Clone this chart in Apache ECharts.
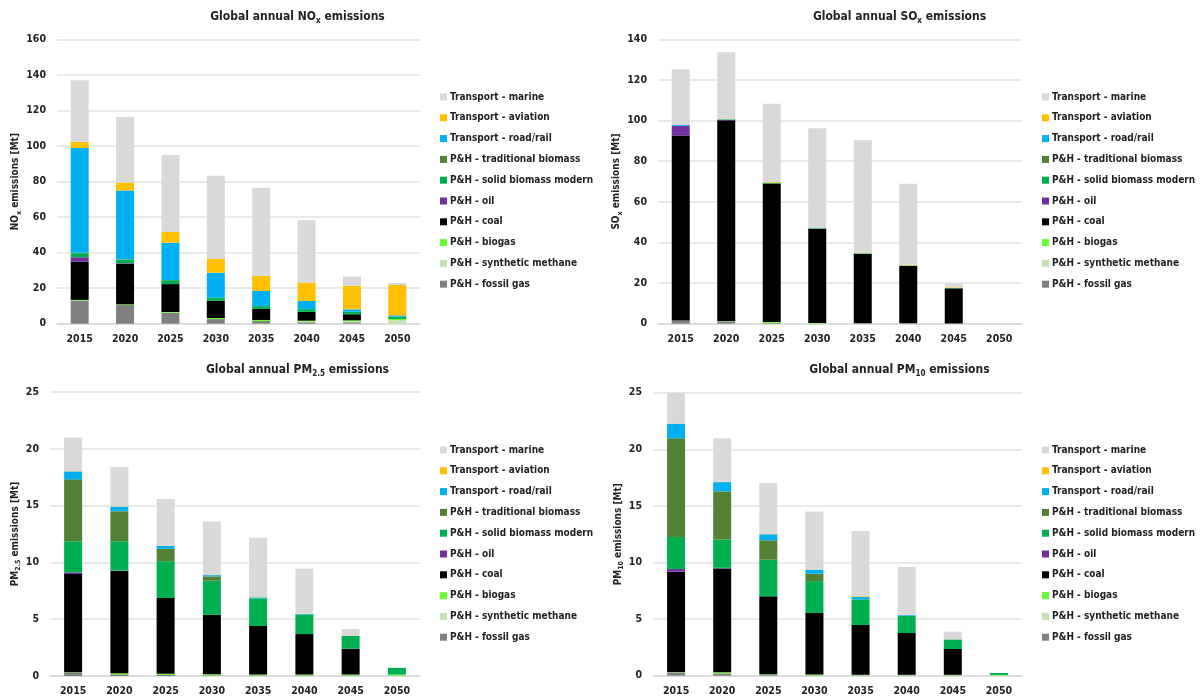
<!DOCTYPE html>
<html><head><meta charset="utf-8">
<script src="https://cdn.jsdelivr.net/npm/echarts@6/dist/echarts.min.js"></script>
<style>html,body{margin:0;padding:0;background:#fff}#c{width:1204px;height:699px}</style>
</head><body><div id="c"></div>
<script>
const years = ['2015','2020','2025','2030','2035','2040','2045','2050'];
const seriesNames = ['P&H - fossil gas','P&H - synthetic methane','P&H - biogas','P&H - coal','P&H - oil','P&H - solid biomass modern','P&H - traditional biomass','Transport - road/rail','Transport - aviation','Transport - marine'];
const seriesColors = ['#808080','#c6e0b4','#66ff33','#000000','#7030a0','#00b050','#548235','#00b0f0','#ffc000','#d9d9d9'];

// NOx [Mt]
const noxFossilGas = [13, 10.5, 6.2, 2.6, 1.5, 0.8, 0.8, 0];
const noxSynthMethane = [0, 0, 0, 0, 0, 0.3, 0.4, 2.0];
const noxBiogas = [0.4, 0.4, 0.4, 0.6, 0.6, 0.6, 0.7, 0.6];
const noxCoal = [21.5, 22.9, 15.7, 9.7, 6.2, 5.0, 3.4, 0];
const noxOil = [2.5, 0.3, 0, 0, 0, 0, 0, 0];
const noxSolidBiomass = [2.3, 2.0, 2.2, 1.7, 1.6, 1.5, 1.4, 1.5];
const noxTradBiomass = [0.2, 0.2, 0.1, 0, 0, 0, 0, 0];
const noxRoadRail = [59, 38.7, 21, 14.1, 8.5, 4.6, 1.4, 0.6];
const noxAviation = [3.5, 4.5, 6, 7.7, 8.6, 10.4, 13.3, 17.1];
const noxMarine = [34.6, 36.8, 43.4, 46.9, 49.5, 35, 5.1, 1.1];

// SOx [Mt]
const soxFossilGas = [1.6, 1.2, 0.3, 0.1, 0.1, 0.1, 0, 0];
const soxSynthMethane = [0, 0, 0, 0, 0, 0, 0, 0];
const soxBiogas = [0, 0.1, 0.5, 0.2, 0.1, 0.1, 0.1, 0];
const soxCoal = [91, 98.8, 68.2, 46.5, 34.1, 28.2, 17.3, 0];
const soxOil = [4.8, 0.2, 0, 0, 0, 0, 0, 0];
const soxSolidBiomass = [0, 0.2, 0.3, 0.2, 0.2, 0.2, 0.1, 0];
const soxTradBiomass = [0, 0, 0, 0, 0, 0, 0, 0];
const soxRoadRail = [0.6, 0.2, 0.1, 0.2, 0.2, 0.1, 0.1, 0];
const soxAviation = [0.1, 0.3, 0.3, 0.2, 0.3, 0.3, 0.3, 0];
const soxMarine = [27.1, 32.6, 38.6, 48.8, 55.3, 39.9, 1.9, 0];

// PM2.5 [Mt]
const pm25FossilGas = [0.3, 0.15, 0.1, 0.05, 0.05, 0.05, 0.05, 0];
const pm25SynthMethane = [0, 0, 0, 0, 0, 0, 0, 0.02];
const pm25Biogas = [0.02, 0.1, 0.1, 0.1, 0.08, 0.08, 0.08, 0.1];
const pm25Coal = [8.65, 9.0, 6.66, 5.24, 4.27, 3.56, 2.27, 0];
const pm25Oil = [0.15, 0.03, 0, 0, 0, 0, 0, 0];
const pm25SolidBiomass = [2.74, 2.58, 3.25, 2.99, 2.43, 1.73, 1.12, 0.6];
const pm25TradBiomass = [5.45, 2.64, 1.09, 0.38, 0, 0, 0, 0];
const pm25RoadRail = [0.7, 0.41, 0.26, 0.12, 0.09, 0.05, 0.02, 0];
const pm25Aviation = [0.02, 0.02, 0.02, 0.02, 0.02, 0.02, 0.02, 0];
const pm25Marine = [2.95, 3.46, 4.1, 4.69, 5.24, 3.96, 0.58, 0];

// PM10 [Mt]
const pm10FossilGas = [0.3, 0.2, 0.08, 0.03, 0.03, 0.03, 0.03, 0];
const pm10SynthMethane = [0, 0, 0, 0, 0, 0, 0, 0.02];
const pm10Biogas = [0.02, 0.1, 0.05, 0.08, 0.05, 0.05, 0.05, 0.05];
const pm10Coal = [8.87, 9.18, 6.88, 5.43, 4.4, 3.69, 2.28, 0];
const pm10Oil = [0.23, 0.05, 0, 0, 0, 0, 0, 0];
const pm10SolidBiomass = [2.83, 2.51, 3.24, 2.82, 2.26, 1.53, 0.82, 0.17];
const pm10TradBiomass = [8.72, 4.24, 1.71, 0.65, 0, 0, 0, 0];
const pm10RoadRail = [1.29, 0.82, 0.53, 0.35, 0.21, 0.06, 0.03, 0];
const pm10Aviation = [0.02, 0.02, 0.02, 0.02, 0.07, 0.02, 0.02, 0];
const pm10Marine = [2.72, 3.85, 4.51, 5.13, 5.76, 4.23, 0.66, 0];

const panels = [
  {key:'nox', data:[noxFossilGas,noxSynthMethane,noxBiogas,noxCoal,noxOil,noxSolidBiomass,noxTradBiomass,noxRoadRail,noxAviation,noxMarine],
   max:160, interval:20, pre:'NO', sub:'x'},
  {key:'sox', data:[soxFossilGas,soxSynthMethane,soxBiogas,soxCoal,soxOil,soxSolidBiomass,soxTradBiomass,soxRoadRail,soxAviation,soxMarine],
   max:140, interval:20, pre:'SO', sub:'x'},
  {key:'pm25', data:[pm25FossilGas,pm25SynthMethane,pm25Biogas,pm25Coal,pm25Oil,pm25SolidBiomass,pm25TradBiomass,pm25RoadRail,pm25Aviation,pm25Marine],
   max:25, interval:5, pre:'PM', sub:'2.5'},
  {key:'pm10', data:[pm10FossilGas,pm10SynthMethane,pm10Biogas,pm10Coal,pm10Oil,pm10SolidBiomass,pm10TradBiomass,pm10RoadRail,pm10Aviation,pm10Marine],
   max:25, interval:5, pre:'PM', sub:'10'}
];

const FONT = "'Liberation Sans Narrow','Arial Narrow','DejaVu Sans Condensed','Liberation Sans',sans-serif";
const TXT = '#222';
const layout = [
  {left:57, top:39.5, width:363, height:284.2, nameGap:31, titleX:297.5, titleY:17, legX:435, legY:86},
  {left:658, top:39.3, width:364, height:284.4, nameGap:29, titleX:899.5, titleY:17, legX:1037, legY:86},
  {left:50, top:392, width:370, height:284, nameGap:25, titleX:297.5, titleY:370, legX:435, legY:439},
  {left:653, top:392.7, width:369, height:283, nameGap:24, titleX:899.5, titleY:370, legX:1037, legY:439}
];

const grid = [], xAxis = [], yAxis = [], series = [], legend = [], graphic = [];
const legendOrder = seriesNames.slice().reverse();
panels.forEach((p, i) => {
  const L = layout[i];
  grid.push({left:L.left, top:L.top, width:L.width, height:L.height, containLabel:false});
  xAxis.push({type:'category', gridIndex:i, data:years,
    axisLine:{lineStyle:{color:'#d9d9d9', width:1.5}}, axisTick:{show:false},
    axisLabel:{color:TXT, fontFamily:FONT, fontWeight:'bold', fontSize:10.5, margin:10}});
  yAxis.push({type:'value', gridIndex:i, min:0, max:p.max, interval:p.interval,
    axisLine:{show:false}, axisTick:{show:false},
    splitLine:{lineStyle:{color:'#e3e3e3', width:1.5}},
    axisLabel:{color:TXT, fontFamily:FONT, fontWeight:'bold', fontSize:10.5, margin:11},
    name: p.pre + '{s|' + p.sub + '} emissions [Mt]', nameLocation:'middle', nameRotate:90, nameGap:L.nameGap,
    nameTextStyle:{color:TXT, fontFamily:FONT, fontWeight:'bold', fontSize:10, lineHeight:14,
      rich:{s:{fontFamily:FONT, fontWeight:'bold', fontSize:7, color:TXT, verticalAlign:'bottom', lineHeight:9}}}});
  p.data.forEach((arr, k) => {
    series.push({type:'bar', name:seriesNames[k], xAxisIndex:i, yAxisIndex:i, stack:p.key,
      data:arr, barWidth:18, itemStyle:{color:seriesColors[k]}, emphasis:{disabled:true}});
  });
  legend.push({orient:'vertical', left:L.legX, top:L.legY, data:legendOrder, icon:'rect',
    itemWidth:7, itemHeight:7, itemGap:8.8, selectedMode:false,
    textStyle:{color:TXT, fontFamily:FONT, fontWeight:'bold', fontSize:10, lineHeight:12, padding:[0,0,0,-2]}});
  graphic.push({type:'text', x:L.titleX, y:L.titleY, silent:true,
    style:{text:'{a|Global annual ' + p.pre + '}{s|' + p.sub + '}{a| emissions}', align:'center', verticalAlign:'middle',
      rich:{a:{fontFamily:FONT, fontWeight:'bold', fontSize:12, fill:TXT, lineHeight:16},
            s:{fontFamily:FONT, fontWeight:'bold', fontSize:8, fill:TXT, verticalAlign:'bottom', lineHeight:9}}}});
});

const chart = echarts.init(document.getElementById('c'), null, {renderer:'canvas'});
chart.setOption({animation:false, backgroundColor:'#fff', grid, xAxis, yAxis, series, legend, graphic});
</script></body></html>
